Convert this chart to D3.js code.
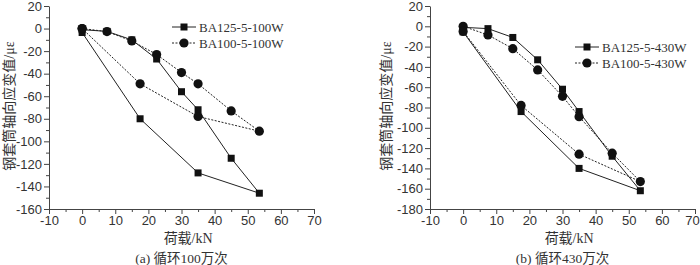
<!DOCTYPE html>
<html>
<head>
<meta charset="utf-8">
<script src="https://cdn.jsdelivr.net/npm/d3@7"></script>
<style>
  body { margin: 0; background: #fff; }
  svg { display: block; font-family: "Liberation Serif", "Noto Sans CJK SC", serif; }
  .tick text { font-size: 13px; fill: #333; }
  .domain, .tick line { stroke: #444; }
  .lbl { font-size: 13px; fill: #333; }
  .big { font-size: 14px; }
</style>
</head>
<body>
<svg id="chart" width="700" height="265"></svg>
<script>
// load steps (kN), loading then unloading
let load = [0, 7.5, 15, 22.5, 30, 35, 45, 53.5, 35, 17.5, 0];

// (a) 100万次
let strain_a125 = [-1, -2.5, -10, -27, -56, -72, -115, -146, -128, -80, -3.5];
let strain_a100 = [0, -2.7, -11, -23, -39, -49, -73, -91, -78, -49, 0];

// (b) 430万次
let strain_b125 = [-1, -2.3, -11, -33, -62, -84, -128, -162, -140, -84, -5.5];
let strain_b100 = [0, -8.5, -22, -43, -69, -89, -125, -153, -126, -78, -5];

let x_ticks = [-10, 0, 10, 20, 30, 40, 50, 60, 70];
let y_ticks_a = [20, 0, -20, -40, -60, -80, -100, -120, -140, -160];
let y_ticks_b = [20, 0, -20, -40, -60, -80, -100, -120, -140, -160, -180];

let svg = d3.select("#chart");

// plain hyphen minus like the original figure
let fmt = (d) => String(d);

function draw_panel(p) {
    let x = d3.scaleLinear().domain([-10, 70]).range([p.left, p.left + 265]),
        y = d3.scaleLinear().domain([p.ymin, 20]).range([209, 6]);

    let g = svg.append("g");

    // minor ticks
    g.append("g").attr("transform", "translate(0,209)")
        .call(d3.axisBottom(x).tickValues(d3.range(-5, 70, 10)).tickSize(3).tickFormat(""))
        .select(".domain").remove();
    g.append("g").attr("transform", "translate(" + p.left + ",0)")
        .call(d3.axisLeft(y).tickValues(d3.range(10, p.ymin, -20)).tickSize(3).tickFormat(""))
        .select(".domain").remove();

    // major ticks
    let xa = g.append("g").attr("transform", "translate(0,209)")
        .call(d3.axisBottom(x).tickValues(x_ticks).tickSize(5).tickSizeOuter(0).tickPadding(2).tickFormat(fmt));
    g.append("g").attr("transform", "translate(" + p.left + ",0)")
        .call(d3.axisLeft(y).tickValues(p.yticks).tickSize(5).tickSizeOuter(0).tickPadding(2).tickFormat(fmt));

    // keep the last label inside the page on the right panel
    if (p.nudge_last) {
        xa.selectAll(".tick text").filter((d) => d === 70).attr("dx", -3);
    }

    let line = d3.line().x((d) => x(d[0])).y((d) => y(d[1]));

    p.series.forEach((s) => {
        let pts = load.map((l, i) => [l, s.values[i]]);
        g.append("path")
            .attr("d", line(pts))
            .attr("fill", "none")
            .attr("stroke", "#222")
            .attr("stroke-width", 1)
            .attr("stroke-dasharray", s.dash);
        draw_markers(g, pts.map((d) => [x(d[0]), y(d[1])]), s.shape);
    });

    // legend
    p.series.forEach((s, i) => {
        let ly = p.leg_y + i * 16;
        g.append("line")
            .attr("x1", p.leg_x).attr("x2", p.leg_x + 24)
            .attr("y1", ly).attr("y2", ly)
            .attr("stroke", "#222").attr("stroke-dasharray", s.dash);
        draw_markers(g, [[p.leg_x + 12, ly]], s.shape);
        g.append("text").classed("lbl", true)
            .attr("x", p.leg_x + 27).attr("y", ly + 4.5)
            .text(s.name);
    });

    g.append("text").classed("lbl big", true)
        .attr("text-anchor", "middle")
        .attr("transform", "translate(" + p.ylab_x + "," + 106 + ") rotate(-90)")
        .text("钢套筒轴向应变值/με");

    g.append("text").classed("lbl big", true)
        .attr("text-anchor", "middle")
        .attr("x", x(p.xlab_at)).attr("y", 243)
        .text("荷载/kN");

    g.append("text").classed("lbl", true)
        .attr("text-anchor", "middle")
        .style("font-size", "13.5px")
        .attr("x", x(p.cap_at)).attr("y", 263)
        .text(p.caption);
}

function draw_markers(g, pts, shape) {
    if (shape === "square") {
        g.selectAll(null).data(pts).enter().append("rect")
            .attr("x", (d) => d[0] - 3.5).attr("y", (d) => d[1] - 3.5)
            .attr("width", 7).attr("height", 7)
            .attr("fill", "#111");
    } else {
        g.selectAll(null).data(pts).enter().append("circle")
            .attr("cx", (d) => d[0]).attr("cy", (d) => d[1]).attr("r", 4.6)
            .attr("fill", "#111");
    }
}

draw_panel({
    left: 49, ymin: -160, yticks: y_ticks_a,
    leg_x: 172, leg_y: 27, ylab_x: 14, xlab_at: 32, cap_at: 30,
    caption: "(a) 循环100万次",
    series: [
        {name: "BA125-5-100W", values: strain_a125, shape: "square", dash: null},
        {name: "BA100-5-100W", values: strain_a100, shape: "circle", dash: "2,1.5"}
    ]
});

draw_panel({
    left: 430, ymin: -180, yticks: y_ticks_b, nudge_last: true,
    leg_x: 575, leg_y: 47, ylab_x: 391, xlab_at: 32, cap_at: 30,
    caption: "(b) 循环430万次",
    series: [
        {name: "BA125-5-430W", values: strain_b125, shape: "square", dash: null},
        {name: "BA100-5-430W", values: strain_b100, shape: "circle", dash: "2,1.5"}
    ]
});
</script>
</body>
</html>
